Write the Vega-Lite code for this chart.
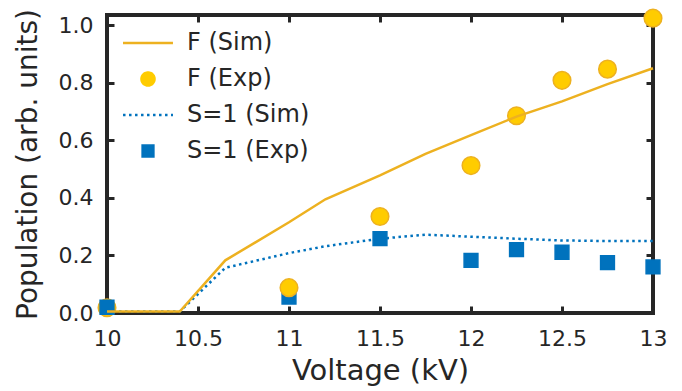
{
  "$schema": "https://vega.github.io/schema/vega-lite/v6.json",
  "width": 546,
  "height": 298,
  "autosize": "none",
  "padding": {"left": 107, "top": 15, "right": 29, "bottom": 78},
  "background": "white",
  "config": {
    "font": "DejaVu Sans",
    "view": {"stroke": "#262626", "strokeWidth": 4},
    "axis": {
      "grid": false,
      "domain": false,
      "tickColor": "#262626",
      "tickWidth": 3,
      "tickSize": -7,
      "labelColor": "#262626",
      "labelFont": "DejaVu Sans",
      "labelFontSize": 22,
      "titleColor": "#262626",
      "titleFont": "DejaVu Sans",
      "titleFontSize": 28,
      "titleFontWeight": "normal"
    },
    "legend": {
      "labelFont": "DejaVu Sans",
      "labelFontSize": 24,
      "labelColor": "#262626"
    }
  },
  "resolve": {"axis": {"x": "independent", "y": "independent"}, "legend": {"color": "independent"}},
  "layer": [
    {
      "data": {
        "values": [
          {"series": "F (Exp)", "voltage": 10.0, "population": 0.018},
          {"series": "S=1 (Exp)", "voltage": 10.0, "population": 0.02},
          {"series": "S=1 (Exp)", "voltage": 11.0, "population": 0.055},
          {"series": "F (Exp)", "voltage": 11.0, "population": 0.088},
          {"series": "F (Exp)", "voltage": 11.5, "population": 0.335},
          {"series": "S=1 (Exp)", "voltage": 11.5, "population": 0.258},
          {"series": "F (Exp)", "voltage": 12.0, "population": 0.512},
          {"series": "S=1 (Exp)", "voltage": 12.0, "population": 0.183},
          {"series": "F (Exp)", "voltage": 12.25, "population": 0.685},
          {"series": "S=1 (Exp)", "voltage": 12.25, "population": 0.22},
          {"series": "F (Exp)", "voltage": 12.5, "population": 0.808},
          {"series": "S=1 (Exp)", "voltage": 12.5, "population": 0.211},
          {"series": "F (Exp)", "voltage": 12.75, "population": 0.847},
          {"series": "S=1 (Exp)", "voltage": 12.75, "population": 0.175},
          {"series": "F (Exp)", "voltage": 13.0, "population": 1.024},
          {"series": "S=1 (Exp)", "voltage": 13.0, "population": 0.16}
        ]
      },
      "mark": {"type": "point", "filled": true, "opacity": 1, "clip": false},
      "encoding": {
        "x": {
          "field": "voltage", "type": "quantitative",
          "scale": {"domain": [10, 13], "nice": false, "zero": false},
          "axis": {"orient": "top", "labels": false, "title": null, "values": [10, 10.5, 11, 11.5, 12, 12.5, 13]}
        },
        "y": {
          "field": "population", "type": "quantitative",
          "scale": {"domain": [0, 1.035], "nice": false},
          "axis": {"orient": "right", "labels": false, "title": null, "values": [0, 0.2, 0.4, 0.6, 0.8, 1.0]}
        },
        "color": {
          "field": "series", "type": "nominal",
          "scale": {
            "domain": ["F (Sim)", "F (Exp)", "S=1 (Sim)", "S=1 (Exp)"],
            "range": ["#EDB120", "#FFCC00", "#0072BD", "#0072BD"]
          },
          "legend": null
        },
        "stroke": {
          "field": "series", "type": "nominal",
          "scale": {"domain": ["F (Exp)", "S=1 (Exp)"], "range": ["#EDB120", "#0072BD"]},
          "legend": null
        },
        "shape": {
          "field": "series", "type": "nominal",
          "scale": {"domain": ["F (Exp)", "S=1 (Exp)"], "range": ["circle", "square"]},
          "legend": null
        },
        "size": {
          "field": "series", "type": "nominal",
          "scale": {"type": "ordinal", "domain": ["F (Exp)", "S=1 (Exp)"], "range": [310, 190]},
          "legend": null
        },
        "strokeWidth": {"value": 1.5}
      }
    },
    {
      "data": {
        "values": [
          {"series": "S=1 (Sim)", "voltage": 10.0, "population": 0.005},
          {"series": "S=1 (Sim)", "voltage": 10.4, "population": 0.005},
          {"series": "S=1 (Sim)", "voltage": 10.65, "population": 0.157},
          {"series": "S=1 (Sim)", "voltage": 11.0, "population": 0.208},
          {"series": "S=1 (Sim)", "voltage": 11.2, "population": 0.232},
          {"series": "S=1 (Sim)", "voltage": 11.5, "population": 0.258},
          {"series": "S=1 (Sim)", "voltage": 11.75, "population": 0.272},
          {"series": "S=1 (Sim)", "voltage": 12.0, "population": 0.265},
          {"series": "S=1 (Sim)", "voltage": 12.25, "population": 0.258},
          {"series": "S=1 (Sim)", "voltage": 12.5, "population": 0.252},
          {"series": "S=1 (Sim)", "voltage": 12.75, "population": 0.25},
          {"series": "S=1 (Sim)", "voltage": 13.0, "population": 0.25}
        ]
      },
      "mark": {"type": "line", "strokeWidth": 2.5, "strokeDash": [2.5, 3.5], "clip": false},
      "encoding": {
        "x": {"field": "voltage", "type": "quantitative", "axis": null},
        "y": {"field": "population", "type": "quantitative", "axis": null},
        "color": {"field": "series", "type": "nominal", "legend": null}
      }
    },
    {
      "data": {
        "values": [
          {"series": "F (Sim)", "voltage": 10.0, "population": 0.005},
          {"series": "F (Sim)", "voltage": 10.4, "population": 0.005},
          {"series": "F (Sim)", "voltage": 10.65, "population": 0.183},
          {"series": "F (Sim)", "voltage": 11.0, "population": 0.315},
          {"series": "F (Sim)", "voltage": 11.2, "population": 0.395},
          {"series": "F (Sim)", "voltage": 11.5, "population": 0.478},
          {"series": "F (Sim)", "voltage": 11.75, "population": 0.553},
          {"series": "F (Sim)", "voltage": 12.0, "population": 0.618},
          {"series": "F (Sim)", "voltage": 12.25, "population": 0.682},
          {"series": "F (Sim)", "voltage": 12.5, "population": 0.735},
          {"series": "F (Sim)", "voltage": 12.75, "population": 0.795},
          {"series": "F (Sim)", "voltage": 13.0, "population": 0.85}
        ]
      },
      "mark": {"type": "line", "strokeWidth": 2.5, "clip": false},
      "encoding": {
        "x": {
          "field": "voltage", "type": "quantitative",
          "axis": {"orient": "bottom", "title": "Voltage (kV)", "titleFontSize": 29, "format": "~g", "values": [10, 10.5, 11, 11.5, 12, 12.5, 13], "labelPadding": 22, "titlePadding": 7, "labelFlush": false}
        },
        "y": {
          "field": "population", "type": "quantitative",
          "axis": {"orient": "left", "title": "Population (arb. units)", "format": ".1f", "values": [0, 0.2, 0.4, 0.6, 0.8, 1.0], "labelPadding": 21, "titlePadding": 16, "labelFlush": false}
        },
        "color": {
          "field": "series", "type": "nominal",
          "legend": {
            "title": null,
            "orient": "none",
            "legendX": 29,
            "legendY": 16,
            "symbolSize": 225,
            "symbolStrokeWidth": 2.5,
            "symbolOpacity": 1,
            "labelOffset": 27,
            "rowPadding": 12,
            "symbolType": {"expr": "(datum.value === 'F (Exp)' ? 'M-0.87,0A0.87,0.87 0 1,0 0.87,0A0.87,0.87 0 1,0 -0.87,0Z' : datum.value === 'S=1 (Exp)' ? 'M-0.72,-0.72H0.72V0.72H-0.72Z' : 'M-3.33,0H3.33')"},
            "symbolFillColor": {"expr": "(datum.value === 'F (Exp)' ? '#FFCC00' : datum.value === 'S=1 (Exp)' ? '#0072BD' : 'transparent')"},
            "symbolDash": {"expr": "(datum.value === 'S=1 (Sim)' ? [2.5, 3.5] : [1, 0])"}
          }
        }
      }
    }
  ]
}
